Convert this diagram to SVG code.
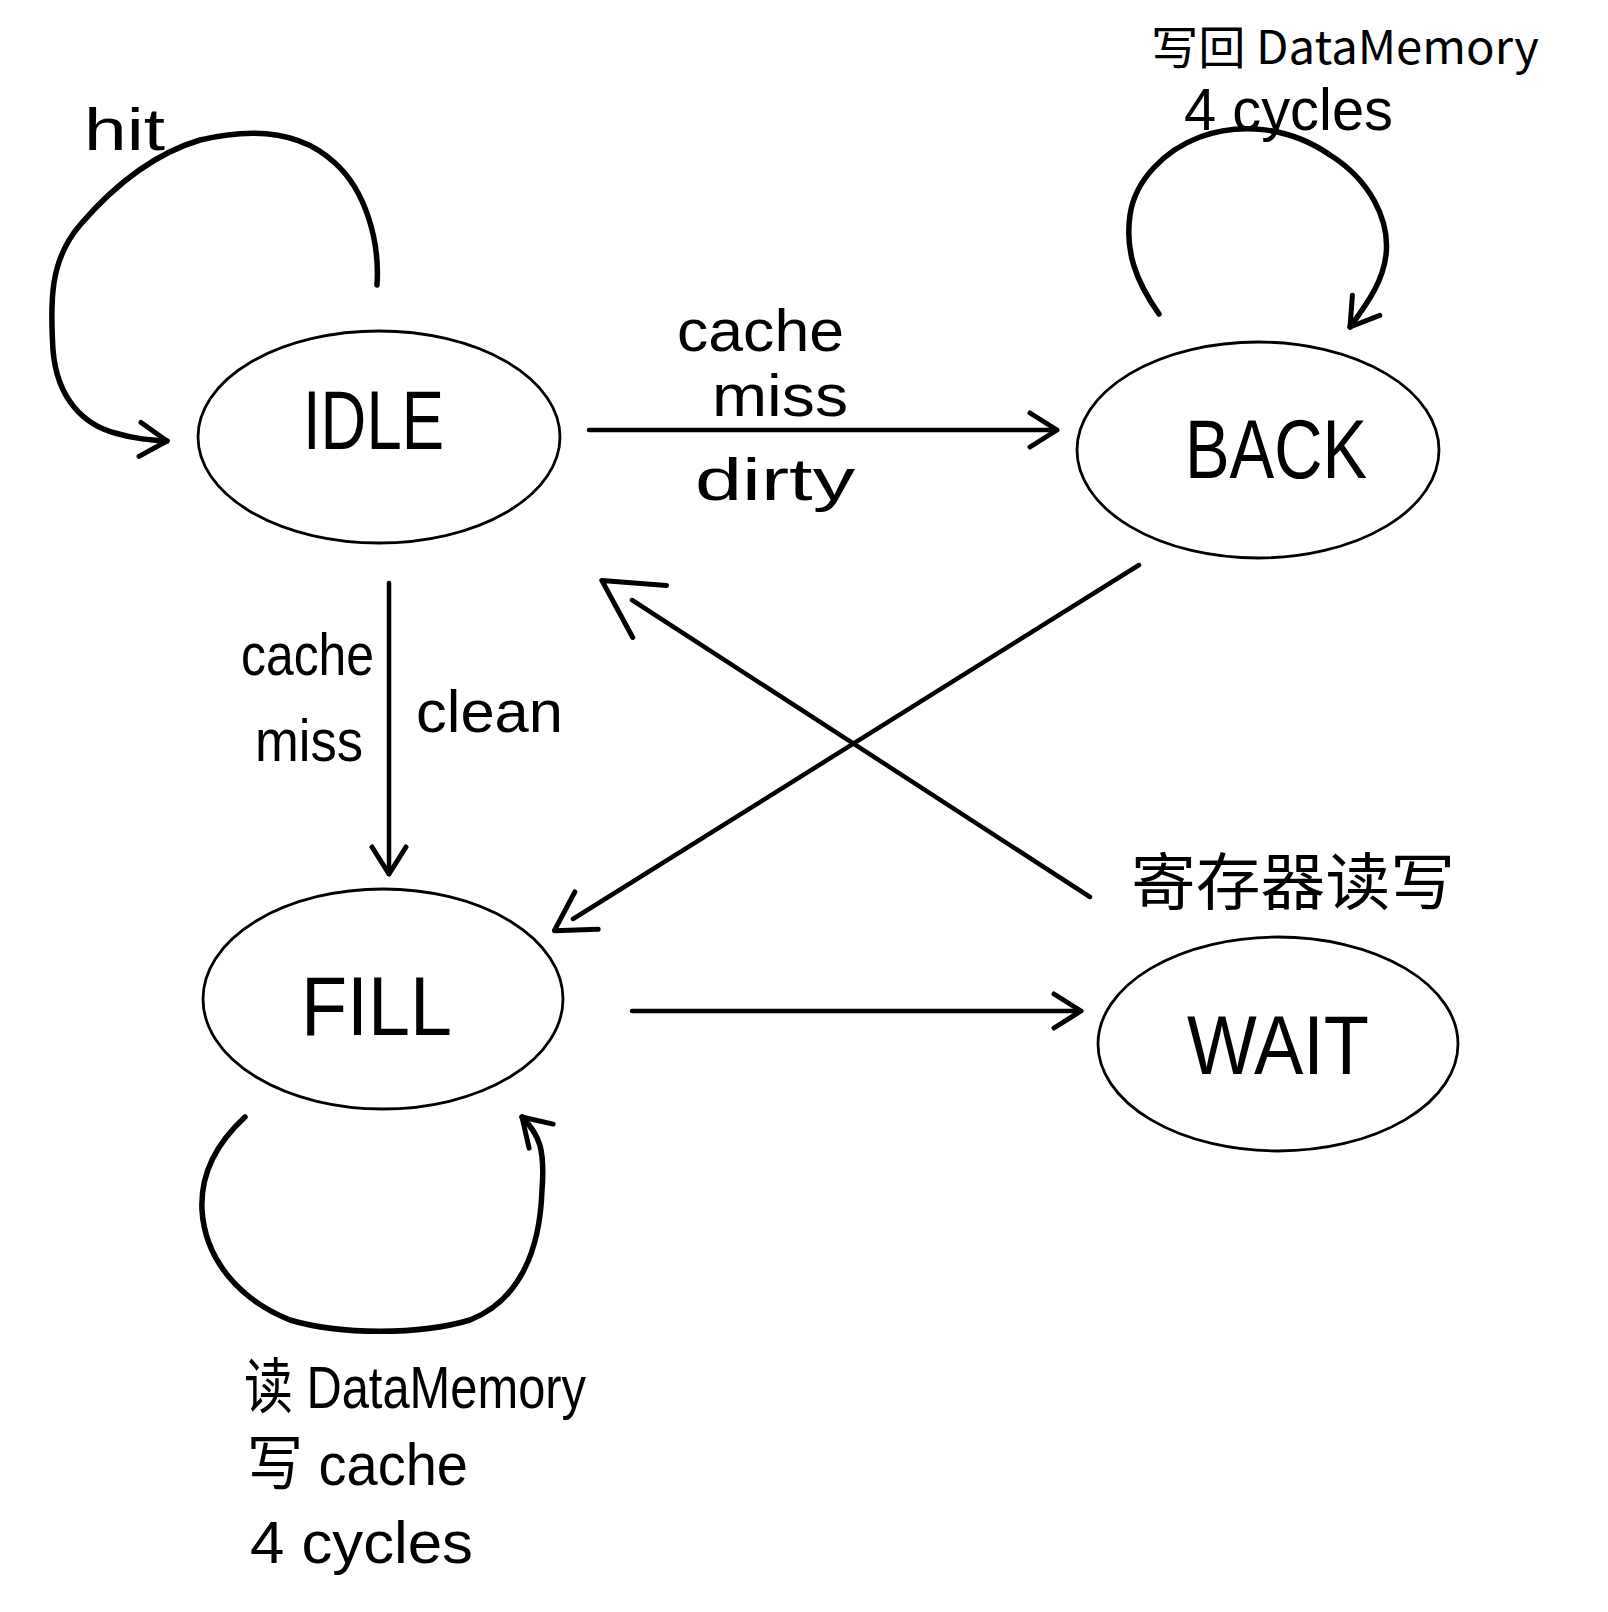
<svg xmlns="http://www.w3.org/2000/svg" width="1608" height="1612" viewBox="0 0 1608 1612">
<style>
.node{fill:none;stroke:#000;stroke-width:2.8}
.edge{fill:none;stroke:#000;stroke-width:4.5;stroke-linecap:round;stroke-linejoin:round}
.loop{fill:none;stroke:#000;stroke-width:5.5;stroke-linecap:round;stroke-linejoin:round}
.nl{font-family:"Liberation Sans","Noto Sans CJK SC",sans-serif;font-size:84px;fill:#000}
.el{font-family:"Liberation Sans","Noto Sans CJK SC",sans-serif;font-size:60px;fill:#000}
.cj{font-family:"Noto Sans CJK SC","Liberation Sans",sans-serif;fill:#000}
.mk{fill:none;stroke:#000;stroke-width:5;stroke-linecap:round;stroke-linejoin:round}
</style>
<defs>
<marker id="ah" markerUnits="userSpaceOnUse" viewBox="0 0 36 44" markerWidth="36" markerHeight="44" refX="31" refY="22" orient="auto">
<path class="mk" d="M4,5 L31,22 L4,39"/>
</marker>
<marker id="ahM" markerUnits="userSpaceOnUse" viewBox="0 0 48 52" markerWidth="48" markerHeight="52" refX="20" refY="26" orient="auto">
<path class="mk" d="M4,4 L42,26 L4,48"/>
</marker>
<marker id="ahL" markerUnits="userSpaceOnUse" viewBox="0 0 100 72" markerWidth="100" markerHeight="72" refX="60" refY="36" orient="auto">
<path class="mk" d="M39,5 L96,36 L39,67"/>
</marker>
</defs>
<rect width="1608" height="1612" fill="#fff"/>
<g id="connectors">
<path class="loop" marker-end="url(#ah)" d="M377,285 C380,240 365,190 335,163 C300,130 250,128 200,140 C150,155 110,190 80,225 C50,260 50,300 53,350 C57,400 85,425 115,433 C135,439 150,440 167,441"/>
<path class="loop" marker-end="url(#ah)" d="M1159,314 C1135,280 1125,250 1130,215 C1135,180 1165,150 1200,137 C1240,122 1290,127 1330,155 C1370,180 1390,220 1386,255 C1383,280 1370,300 1350,327"/>
<path class="loop" marker-end="url(#ah)" d="M245,1117 C220,1140 200,1170 202,1210 C205,1260 240,1300 290,1320 C340,1335 420,1335 470,1320 C520,1300 540,1250 542,1190 C545,1150 540,1135 522,1117"/>
<path class="edge" marker-end="url(#ah)" d="M589,430 L1057,430"/>
<path class="edge" marker-end="url(#ah)" d="M389,583 L389,874"/>
<path class="edge" marker-end="url(#ahM)" d="M1139,565 L573,919"/>
<path class="edge" marker-end="url(#ahL)" d="M1090,897 L632,600"/>
<path class="edge" marker-end="url(#ah)" d="M632,1011 L1081,1011"/>
<text class="el" x="84" y="150" font-size="72" textLength="81" lengthAdjust="spacingAndGlyphs">hit</text>
<text class="el" x="677" y="351" font-size="52" textLength="167" lengthAdjust="spacingAndGlyphs">cache</text>
<text class="el" x="712" y="416" font-size="52" textLength="136" lengthAdjust="spacingAndGlyphs">miss</text>
<text class="el" x="695" y="500" textLength="160" lengthAdjust="spacingAndGlyphs">dirty</text>
<text class="el" x="241" y="675" font-size="58" textLength="133" lengthAdjust="spacingAndGlyphs">cache</text>
<text class="el" x="255" y="761" font-size="58" textLength="108" lengthAdjust="spacingAndGlyphs">miss</text>
<text class="el" x="416" y="732" font-size="58" textLength="147" lengthAdjust="spacingAndGlyphs">clean</text>
<text class="cj" x="1151" y="64" font-size="46" textLength="388" lengthAdjust="spacingAndGlyphs">写回 DataMemory</text>
<text class="el" x="1184" y="130" font-size="48" textLength="209" lengthAdjust="spacingAndGlyphs">4 cycles</text>
<text class="cj" x="1131" y="905" font-size="62" textLength="324" lengthAdjust="spacingAndGlyphs">寄存器读写</text>
<text class="el" x="244" y="1408" font-size="56" textLength="342" lengthAdjust="spacingAndGlyphs">读 DataMemory</text>
<text class="el" x="247" y="1485" font-size="56" textLength="221" lengthAdjust="spacingAndGlyphs">写 cache</text>
<text class="el" x="250" y="1563" font-size="56" textLength="223" lengthAdjust="spacingAndGlyphs">4 cycles</text>
</g>
<g id="IDLE">
<ellipse class="node" cx="379" cy="437" rx="181" ry="106"/>
<text class="nl" x="303" y="449" textLength="141" lengthAdjust="spacingAndGlyphs">IDLE</text>
</g>
<g id="BACK">
<ellipse class="node" cx="1258" cy="450" rx="181" ry="108"/>
<text class="nl" x="1185" y="478" font-size="88" textLength="182" lengthAdjust="spacingAndGlyphs">BACK</text>
</g>
<g id="FILL">
<ellipse class="node" cx="383" cy="999" rx="180" ry="110"/>
<text class="nl" x="301" y="1035" textLength="151" lengthAdjust="spacingAndGlyphs">FILL</text>
</g>
<g id="WAIT">
<ellipse class="node" cx="1278" cy="1044" rx="180" ry="107"/>
<text class="nl" x="1187" y="1074" textLength="182" lengthAdjust="spacingAndGlyphs">WAIT</text>
</g>
</svg>
